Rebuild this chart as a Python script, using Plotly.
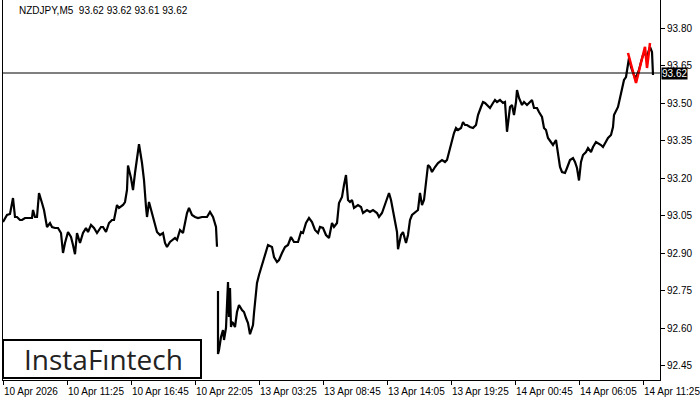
import plotly.graph_objects as go

# M5 bars, numbered from 10 Apr 2026 00:00 (one bar = 5 min, weekend skipped)
fri_bar = [0, 4, 7, 10, 12, 14, 17, 19, 22, 25, 29, 30, 32, 34, 36, 39, 41, 44, 47, 49,
           52, 55, 58, 60, 62, 65, 68, 70, 72, 74, 77, 80, 83, 85, 88, 91, 94, 98, 100, 103,
           106, 109, 111, 114, 116, 120, 122, 124, 125, 128, 130, 132, 134, 136, 139, 141, 143, 144, 146, 148,
           150, 152, 154, 157, 160, 162, 164, 167, 170, 172, 174, 177, 180, 182, 184, 186, 189, 192, 195, 199,
           201, 204, 207, 210, 213, 214]
fri_price = [93.024, 93.052, 93.056, 93.120, 93.044, 93.044, 93.032, 93.032, 93.040, 93.040, 93.040, 93.072, 93.044, 93.044, 93.140, 93.100, 93.072, 93.004, 93.020, 93.004,
             93.000, 93.000, 92.980, 92.900, 92.940, 92.984, 92.964, 92.932, 92.895, 92.980, 92.940, 92.980, 93.000, 92.984, 93.012, 93.000, 92.980, 93.004, 93.004, 92.984,
             93.020, 93.032, 93.032, 93.092, 93.080, 93.092, 93.104, 93.152, 93.250, 93.200, 93.152, 93.220, 93.284, 93.335, 93.260, 93.192, 93.084, 93.044, 93.104, 93.072,
             93.044, 93.004, 92.984, 92.972, 92.980, 92.940, 92.924, 92.944, 92.952, 92.960, 92.952, 92.992, 92.980, 93.020, 93.060, 93.080, 93.052, 93.044, 93.040, 93.044,
             93.044, 93.044, 93.064, 93.044, 93.004, 92.925]

week_bar = [215, 215, 216, 218, 220, 221, 223, 225, 226, 227, 228, 229, 230, 232, 234, 236, 239, 241, 243, 245,
            247, 250, 251, 253, 254, 256, 259, 261, 263, 265, 269, 271, 274, 276, 279, 282, 285, 288, 291, 295,
            298, 300, 303, 306, 309, 312, 315, 317, 320, 323, 326, 329, 331, 334, 336, 339, 341, 343, 345, 347,
            349, 351, 355, 358, 360, 364, 367, 370, 374, 376, 379, 381, 384, 386, 388, 390, 392, 394, 395, 398,
            400, 403, 405, 407, 409, 412, 415, 417, 419, 421, 423, 425, 427, 429, 432, 435, 439, 442, 444, 446,
            449, 451, 453, 455, 458, 460, 462, 464, 467, 470, 473, 475, 478, 480, 482, 484, 487, 490, 492, 494,
            497, 500, 502, 504, 507, 509, 511, 513, 514, 516, 519, 521, 524, 526, 529, 531, 534, 536, 539, 541,
            543, 545, 548, 550, 553, 555, 557, 559, 562, 564, 567, 570, 572, 574, 576, 578, 580, 583, 585, 588,
            590, 593, 595, 598, 600, 603, 605, 608, 610, 611, 613, 615, 617, 619, 621, 623, 625, 626, 628, 630,
            632, 634, 636, 638, 640, 642, 644, 645, 647, 649, 650]
week_price = [92.748, 92.496, 92.512, 92.564, 92.592, 92.552, 92.600, 92.784, 92.644, 92.760, 92.604, 92.624, 92.620, 92.604, 92.664, 92.692, 92.672, 92.664, 92.640, 92.620,
              92.575, 92.612, 92.660, 92.740, 92.780, 92.812, 92.852, 92.880, 92.904, 92.932, 92.924, 92.884, 92.864, 92.872, 92.900, 92.924, 92.932, 92.964, 92.944, 92.944,
              92.984, 92.980, 93.020, 93.040, 93.024, 92.992, 92.980, 93.004, 93.000, 92.972, 92.960, 93.020, 93.004, 93.020, 93.100, 93.124, 93.172, 93.212, 93.112, 93.104,
              93.112, 93.080, 93.092, 93.084, 93.060, 93.072, 93.064, 93.072, 93.060, 93.044, 93.060, 93.084, 93.124, 93.140, 93.112, 93.064, 93.032, 92.984, 92.915, 92.972,
              92.984, 92.940, 92.972, 93.032, 93.052, 93.064, 93.072, 93.140, 93.092, 93.112, 93.192, 93.252, 93.244, 93.224, 93.244, 93.260, 93.272, 93.264, 93.272, 93.304,
              93.352, 93.380, 93.400, 93.392, 93.400, 93.424, 93.412, 93.412, 93.404, 93.400, 93.412, 93.452, 93.484, 93.504, 93.500, 93.492, 93.480, 93.500, 93.512, 93.504,
              93.512, 93.500, 93.504, 93.385, 93.484, 93.492, 93.452, 93.504, 93.552, 93.520, 93.492, 93.504, 93.492, 93.500, 93.512, 93.480, 93.480, 93.464, 93.444, 93.400,
              93.392, 93.360, 93.344, 93.332, 93.352, 93.304, 93.244, 93.224, 93.220, 93.240, 93.272, 93.280, 93.264, 93.240, 93.190, 93.264, 93.292, 93.304, 93.320, 93.304,
              93.324, 93.344, 93.340, 93.332, 93.324, 93.344, 93.360, 93.372, 93.404, 93.452, 93.472, 93.484, 93.520, 93.560, 93.592, 93.604, 93.660, 93.680, 93.644, 93.624,
              93.600, 93.612, 93.632, 93.664, 93.692, 93.700, 93.672, 93.700, 93.724, 93.704, 93.612]

# pattern marked in red
pattern_bar = [625, 633, 642, 644, 647]
pattern_price = [93.700, 93.580, 93.725, 93.640, 93.740]

last_price = 93.62
y_ticks = [92.45, 92.60, 92.75, 92.90, 93.05, 93.20, 93.35, 93.50, 93.65, 93.80]
x_ticks = [0, 64, 128, 192, 256, 320, 384, 448, 512, 576, 640]
x_labels = ["10 Apr 2026", "10 Apr 11:25", "10 Apr 16:45", "10 Apr 22:05", "13 Apr 03:25",
            "13 Apr 08:45", "13 Apr 14:05", "13 Apr 19:25", "14 Apr 00:45", "14 Apr 06:05",
            "14 Apr 11:25"]

font = "Liberation Sans"

fig = go.Figure()
fig.add_trace(go.Scatter(x=fri_bar + [None] + week_bar, y=fri_price + [None] + week_price,
                         mode="lines", line=dict(color="black", width=2.2), connectgaps=False,
                         hoverinfo="skip"))
fig.add_trace(go.Scatter(x=pattern_bar, y=pattern_price, mode="lines",
                         line=dict(color="#ff0000", width=2.5), hoverinfo="skip"))

fig.add_hline(y=last_price, line_width=1, line_color="black")

fig.update_layout(
    width=700, height=400,
    margin=dict(l=3, r=40, t=0, b=20),
    plot_bgcolor="white", paper_bgcolor="white",
    showlegend=False,
    font=dict(family=font, size=10, color="black"),
    xaxis=dict(range=[0, 657], showgrid=False, zeroline=False, showline=True,
               linecolor="black", linewidth=1, tickvals=x_ticks, ticks="outside",
               ticklen=4, tickcolor="black", showticklabels=False),
    yaxis=dict(range=[92.392, 93.912], side="right", showgrid=False, zeroline=False,
               showline=True, mirror=True, linecolor="black", linewidth=1,
               tickvals=y_ticks, ticktext=[f"{v:.2f}" for v in y_ticks],
               ticks="outside", ticklen=4, tickcolor="black",
               tickfont=dict(family=font, size=10, color="black")),
)

for xv, lab in zip(x_ticks, x_labels):
    fig.add_annotation(x=xv, y=0, xref="x", yref="paper", yanchor="top", xanchor="left",
                       text=lab, showarrow=False, yshift=-4, xshift=-1,
                       font=dict(family=font, size=10, color="black"))

# last price tag
fig.add_annotation(x=1, xref="paper", y=last_price, yref="y", xanchor="left", yanchor="middle",
                   text=f"{last_price:.2f}", showarrow=False, bgcolor="black",
                   font=dict(family=font, size=10, color="white"), borderpad=0, xshift=1)

# header
fig.add_annotation(x=14 / 657, xref="paper", y=1 - 11 / 380, yref="paper", xanchor="left",
                   yanchor="middle", showarrow=False,
                   text="NZDJPY,M5  93.62 93.62 93.61 93.62",
                   font=dict(family=font, size=10, color="black"))

# logo box
fig.add_shape(type="rect", xref="paper", yref="paper", x0=0, x1=198 / 657,
              y0=2 / 380, y1=40 / 380, line=dict(color="black", width=2),
              fillcolor="white", layer="above")
fig.add_annotation(x=100 / 657, xref="paper", y=21 / 380, yref="paper", xanchor="center",
                   yanchor="middle", showarrow=False, text="InstaFıntech",
                   font=dict(family="Open Sans", size=28, color="#222222"))

# the page's default 8px body margin would shift the chart
fig.write_html("out.html", config={"displayModeBar": False},
               post_script="document.body.style.margin='0';")
